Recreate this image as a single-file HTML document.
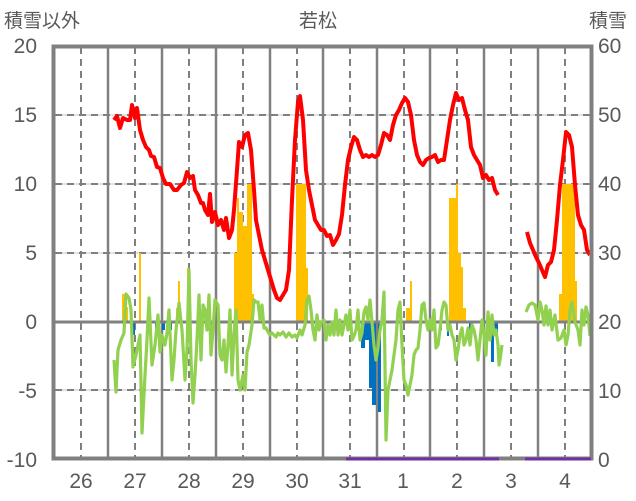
<!DOCTYPE html>
<html><head><meta charset="utf-8"><style>
body{margin:0;background:#fff}
svg{display:block}
text{font-family:"Liberation Sans","Noto Sans CJK JP",sans-serif;fill:#595959}
</style></head><body>
<svg width="636" height="501" xmlns="http://www.w3.org/2000/svg">
<g stroke="#d9d9d9" stroke-width="1.5">
<line x1="55" y1="115" x2="591" y2="115"/><line x1="55" y1="184" x2="591" y2="184"/><line x1="55" y1="253" x2="591" y2="253"/><line x1="55" y1="390" x2="591" y2="390"/>
</g>
<g stroke="#808080" stroke-width="2" stroke-dasharray="7,5">
<line x1="55" y1="115" x2="591" y2="115"/><line x1="55" y1="184" x2="591" y2="184"/><line x1="55" y1="253" x2="591" y2="253"/><line x1="55" y1="390" x2="591" y2="390"/>
<line x1="81" y1="47" x2="81" y2="458"/><line x1="135" y1="47" x2="135" y2="458"/><line x1="189" y1="47" x2="189" y2="458"/><line x1="243" y1="47" x2="243" y2="458"/><line x1="297" y1="47" x2="297" y2="458"/><line x1="350" y1="47" x2="350" y2="458"/><line x1="404" y1="47" x2="404" y2="458"/><line x1="457" y1="47" x2="457" y2="458"/><line x1="511" y1="47" x2="511" y2="458"/><line x1="565" y1="47" x2="565" y2="458"/>
</g>
<g stroke="#808080" stroke-width="2.5">
<line x1="108" y1="47" x2="108" y2="458"/><line x1="162" y1="47" x2="162" y2="458"/><line x1="216" y1="47" x2="216" y2="458"/><line x1="270" y1="47" x2="270" y2="458"/><line x1="323" y1="47" x2="323" y2="458"/><line x1="377" y1="47" x2="377" y2="458"/><line x1="430" y1="47" x2="430" y2="458"/><line x1="484" y1="47" x2="484" y2="458"/><line x1="538" y1="47" x2="538" y2="458"/>
</g>
<g fill="#ffc000">
<rect x="122" y="294" width="3" height="28"/><rect x="125" y="307" width="3" height="15"/><rect x="139" y="253" width="2" height="69"/>
<rect x="176" y="308" width="2" height="14"/><rect x="178" y="281" width="2" height="41"/><rect x="187" y="268" width="2" height="54"/>
<rect x="234" y="253" width="3" height="69"/><rect x="237" y="198" width="2" height="124"/><rect x="239" y="212" width="4" height="110"/><rect x="243" y="226" width="4" height="96"/><rect x="247" y="184" width="5" height="138"/><rect x="252" y="294" width="2" height="28"/>
<rect x="296" y="184" width="10" height="138"/><rect x="306" y="268" width="2" height="54"/>
<rect x="406" y="308" width="4" height="14"/><rect x="410" y="281" width="2" height="41"/>
<rect x="449" y="198" width="7" height="124"/><rect x="456" y="184" width="2" height="138"/><rect x="458" y="253" width="3" height="69"/><rect x="461" y="267" width="2" height="55"/><rect x="463" y="308" width="3" height="14"/>
<rect x="559" y="294" width="3" height="28"/><rect x="562" y="184" width="13" height="138"/><rect x="575" y="281" width="2" height="41"/>
</g>
<g fill="#0070c0">
<rect x="133" y="322" width="2" height="13"/><rect x="155" y="322" width="3" height="8"/><rect x="162" y="322" width="3" height="8"/><rect x="169" y="322" width="3" height="8"/><rect x="211" y="322" width="3" height="8"/>
<rect x="361" y="322" width="4" height="26"/><rect x="365" y="322" width="4" height="18"/><rect x="369" y="322" width="3" height="66"/><rect x="372" y="322" width="4" height="83"/><rect x="378" y="322" width="3" height="90"/><rect x="383" y="322" width="3" height="8"/>
<rect x="440" y="322" width="2" height="8"/><rect x="447" y="322" width="2" height="14"/><rect x="469" y="322" width="2" height="8"/><rect x="491" y="322" width="3" height="40"/><rect x="494" y="322" width="4" height="13"/>
</g>
<line x1="55" y1="322" x2="591" y2="322" stroke="#808080" stroke-width="3"/>
<polyline fill="none" stroke="#92d050" stroke-width="3.2" stroke-linejoin="round" points="114,360 116,392 118,350 121,340 124,333 126,294 129,298 131,310 133,367 136,355 138,345 140,335 142,433 145,375 147,340 149,298 152,365 155,345 158,315 160,352 162,335 165,345 167,333 169,310 172,380 174,360 176,330 179,303 182,330 185,380 187,350 189,270 191,360 193,403 195,375 197,340 199,295 201,360 203,305 205,310 207,330 209,295 211,355 213,330 215,300 218,305 220,355 222,360 224,340 226,372 228,345 230,310 232,375 234,335 236,310 238,380 240,390 243,375 245,390 247,352 249,345 252,325 254,300 256,302 258,302 260,320 262,305 264,328 266,328 268,332 270,335 272,333 274,335 276,337 278,333 280,335 283,332 286,337 289,333 292,337 295,335 297,338 300,330 302,335 305,325 307,300 309,296 311,310 313,330 315,340 317,315 319,330 321,322 324,320 326,340 328,325 330,335 332,322 334,335 336,310 338,335 340,320 342,335 344,325 346,315 348,330 350,310 352,340 354,336 356,330 358,310 360,340 362,333 364,312 366,307 368,320 370,300 372,322 374,345 376,360 378,348 380,330 382,320 384,292 386,440 388,390 390,380 392,370 394,355 396,340 398,310 400,302 402,345 404,380 406,385 408,395 410,385 412,375 414,355 416,350 418,348 420,330 422,305 424,303 426,320 428,330 430,320 432,330 434,310 436,348 438,345 440,330 442,310 444,302 446,305 448,330 450,325 452,335 454,340 456,360 458,350 460,335 462,328 464,345 466,340 468,328 470,345 472,325 474,330 476,340 478,360 480,340 482,320 484,335 486,355 488,312 490,340 492,315 494,335 496,330 498,345 499,365 500,360 502,345"/>
<polyline fill="none" stroke="#92d050" stroke-width="3.2" stroke-linejoin="round" points="526,312 529,305 532,303 535,305 538,320 540,302 542,310 544,325 546,306 548,325 550,310 552,330 555,315 558,340 561,338 564,330 566,345 568,335 570,310 572,302 575,322 578,330 580,345 582,310 584,325 586,307 588,315 590,336"/>
<polyline fill="none" stroke="#ff0000" stroke-width="4" stroke-linejoin="round" points="114,120 117,116 120,128 123,118 127,120 130,120 132,105 135,118 137,108 140,130 143,140 146,147 149,150 151,156 154,157 157,167 160,168 163,178 166,184 170,184 174,190 177,190 181,185 184,183 187,172 190,178 193,176 195,190 198,195 201,203 203,203 205,210 208,215 210,194 212,222 215,212 218,225 221,220 224,230 226,218 229,238 232,230 234,210 237,170 239,142 242,147 245,135 248,133 251,150 254,190 256,220 259,235 262,250 265,260 268,270 271,280 274,290 277,298 280,300 283,295 286,290 289,270 292,200 295,140 298,102 300,96 303,120 306,170 309,190 312,205 315,220 318,225 321,230 324,230 327,236 330,235 333,245 336,240 339,234 342,215 345,185 348,160 351,147 354,137 357,140 360,150 363,157 366,155 369,157 372,155 375,157 378,155 381,145 384,133 387,135 390,140 393,125 396,115 399,110 402,103 405,98 408,102 411,115 414,140 417,155 420,162 423,165 426,160 429,158 432,157 435,155 438,162 441,160 444,160 447,140 450,120 453,105 456,93 459,100 462,98 465,110 468,120 471,147 474,155 477,160 480,165 483,178 486,175 489,180 492,178 495,190 498,195"/>
<polyline fill="none" stroke="#ff0000" stroke-width="4" stroke-linejoin="round" points="527,232 530,243 533,250 536,257 539,263 542,270 545,277 548,265 551,262 554,250 557,220 560,185 563,160 566,132 569,135 572,147 575,185 578,215 581,225 584,230 587,250 590,255"/>
<rect x="53.5" y="46.5" width="538" height="412" fill="none" stroke="#808080" stroke-width="4"/>
<line x1="346" y1="459" x2="499" y2="459" stroke="#7030a0" stroke-width="3"/>
<line x1="525" y1="459" x2="591" y2="459" stroke="#7030a0" stroke-width="3"/>
<g font-size="21" text-anchor="end">
<text x="37" y="53">20</text><text x="37" y="122">15</text><text x="37" y="191">10</text><text x="37" y="260">5</text><text x="37" y="329">0</text><text x="37" y="398">-5</text><text x="37" y="467">-10</text>
</g>
<g font-size="21" text-anchor="start">
<text x="598" y="53">60</text><text x="598" y="122">50</text><text x="598" y="191">40</text><text x="598" y="260">30</text><text x="598" y="329">20</text><text x="598" y="398">10</text><text x="598" y="467">0</text>
</g>
<g font-size="21" text-anchor="middle">
<text x="81" y="488">26</text><text x="135" y="488">27</text><text x="189" y="488">28</text><text x="243" y="488">29</text><text x="297" y="488">30</text><text x="350" y="488">31</text><text x="403" y="488">1</text><text x="457" y="488">2</text><text x="511" y="488">3</text><text x="565" y="488">4</text>
</g>
<text x="4" y="27" font-size="19">積雪以外</text>
<text x="318" y="27" font-size="19" text-anchor="middle">若松</text>
<text x="589" y="27" font-size="19">積雪</text>
</svg>
</body></html>
